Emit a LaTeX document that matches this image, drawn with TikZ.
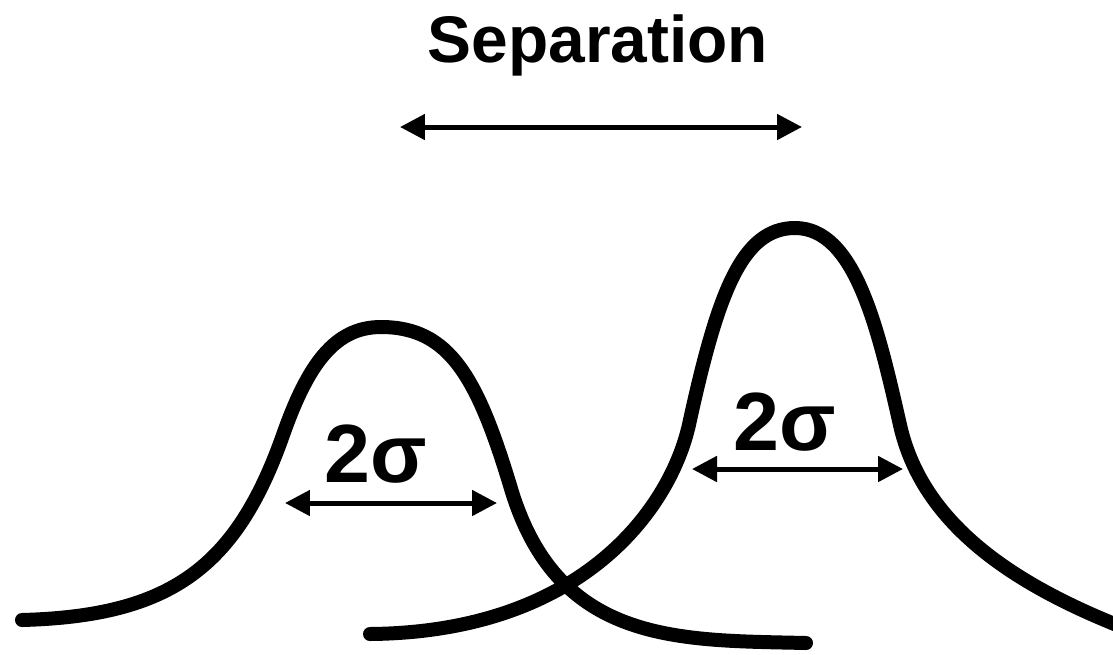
\documentclass[tikz,border=0pt]{standalone}
\usepackage{fontspec}
\setmainfont{Liberation Sans}
\usetikzlibrary{positioning,arrows.meta}
\tikzset{
  gausscurve/.style={line width=0.28cm, line cap=round, line join=round},
  dimarrow/.style={{Triangle[length=0.5cm, width=0.5cm]}-{Triangle[length=0.5cm, width=0.5cm]}, line width=0.1cm},
  biglabel/.style={font=\fontsize{37.5}{40}\selectfont\bfseries, inner sep=0pt, anchor=base},
  sigmalabel/.style={font=\fontsize{47}{50}\selectfont\bfseries, inner sep=0pt, anchor=base}
}
\begin{document}
\begin{tikzpicture}[x=0.02cm, y=-0.02cm]
  \useasboundingbox (0,0) rectangle (1113,654);
  \begin{scope}
    \clip (0,0) rectangle (1113,654);
    % left peak
    \draw[gausscurve] (22,620) .. controls (170,616) and (236,568) .. (283,435)
      .. controls (308,364) and (335,327) .. (381,327)
      .. controls (450,327) and (478,378) .. (512,492)
      .. controls (560,645) and (680,640) .. (806,643);
    % right peak
    \draw[gausscurve] (370,634) .. controls (585,632) and (673,505) .. (690,420)
      .. controls (718,293) and (742,228) .. (795,228)
      .. controls (855,228) and (878,328) .. (900,425)
      .. controls (924,532) and (1028,592) .. (1140,634);
  \end{scope}
  % labels
  \node[biglabel] (sep) at (598,62) {Separation};
  \node[sigmalabel] (sigmaL) at (376,482) {2σ};
  \node[sigmalabel] (sigmaR) at (785,450) {2σ};
  % arrow ends
  \coordinate (sepL) at (400,127);
  \coordinate (sepR) at (802,127);
  \coordinate (wLa) at (285,503);
  \coordinate (wLb) at (497,503);
  \coordinate (wRa) at (692,469);
  \coordinate (wRb) at (903,469);
  \draw[dimarrow] (sepL) -- (sepR);
  \draw[dimarrow] (wLa) -- (wLb);
  \draw[dimarrow] (wRa) -- (wRb);
\end{tikzpicture}
\end{document}
